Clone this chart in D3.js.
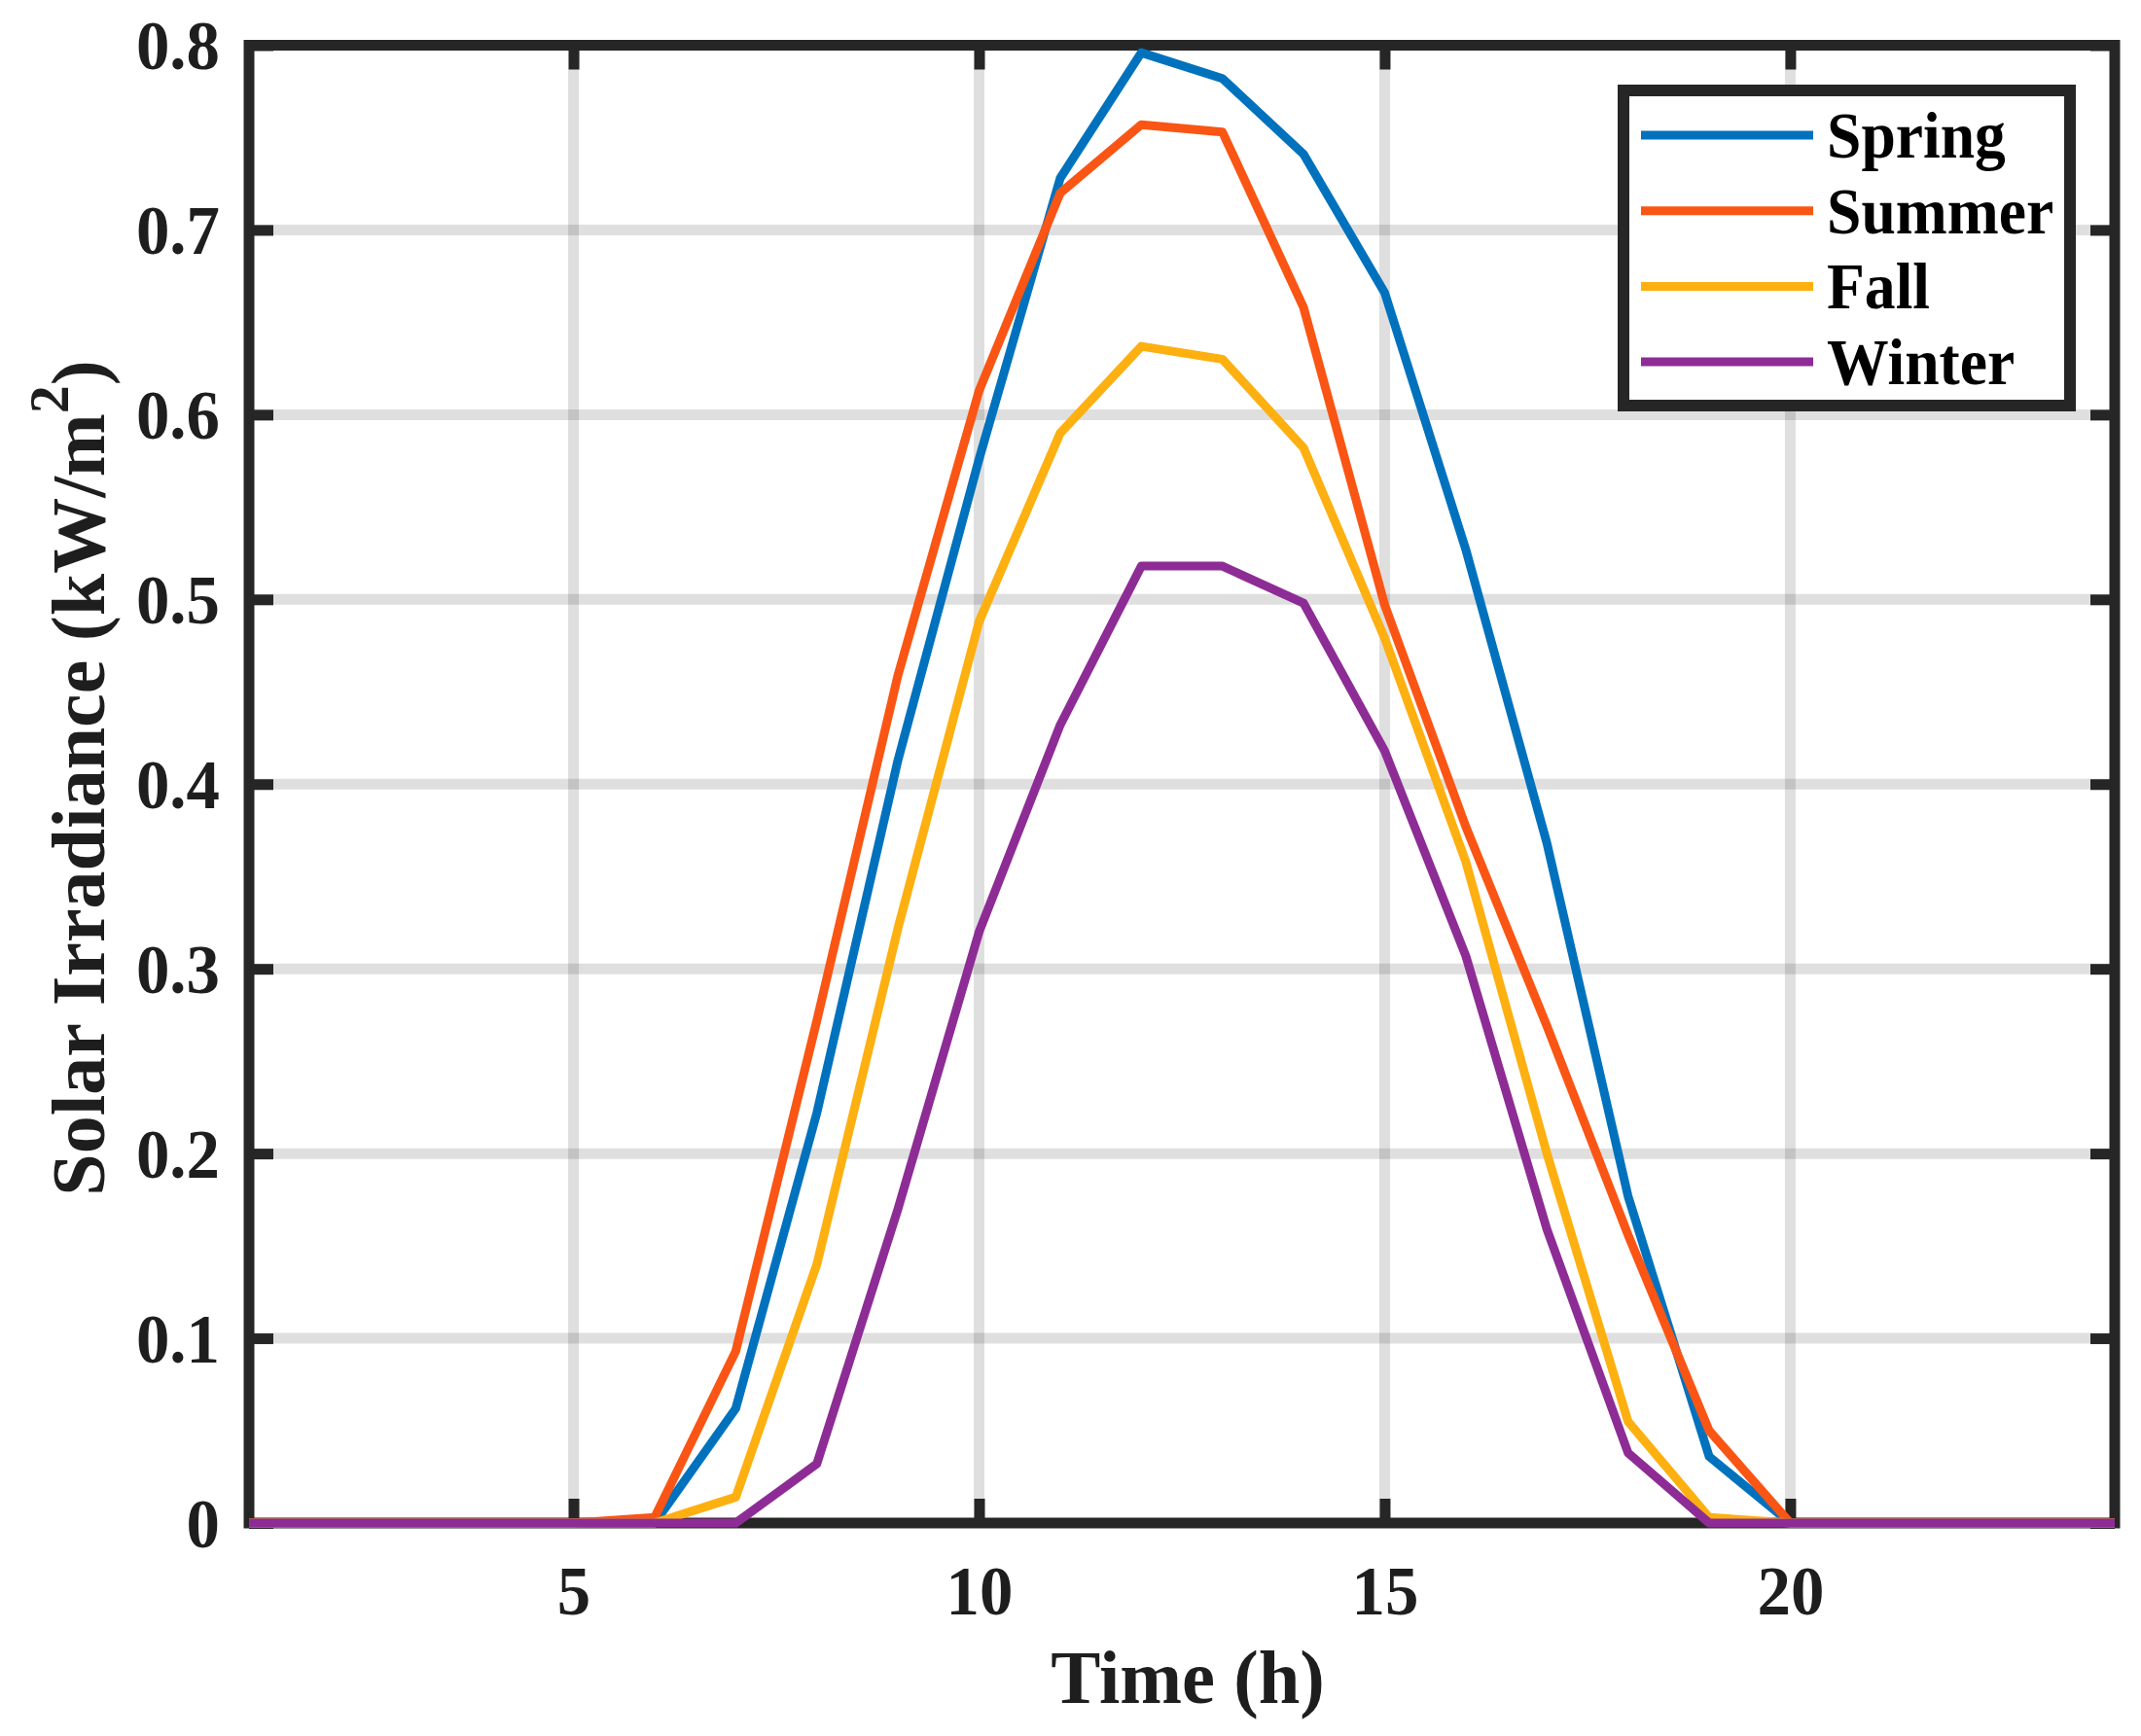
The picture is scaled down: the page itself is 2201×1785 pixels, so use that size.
<!DOCTYPE html>
<html>
<head>
<meta charset="utf-8">
<script src="https://cdn.jsdelivr.net/npm/d3@7"></script>
<style>
  html, body { margin: 0; padding: 0; background: #fff; }
  svg { display: block; }
  text { font-family: "Liberation Serif", "Times New Roman", serif; font-weight: bold; fill: #1e1e1e; }
</style>
</head>
<body>
<svg id="chart"></svg>
<script>
// ── data (hourly solar irradiance, kW/m2) ──
const hours  = d3.range(1, 25);
const spring = [0, 0, 0, 0, 0, 0, 0.062, 0.222, 0.413, 0.576, 0.728, 0.796, 0.782, 0.741, 0.666, 0.527, 0.368, 0.177, 0.036, 0, 0, 0, 0, 0];
const summer = [0, 0, 0, 0, 0, 0.003, 0.093, 0.272, 0.459, 0.613, 0.720, 0.757, 0.753, 0.658, 0.497, 0.377, 0.269, 0.156, 0.050, 0, 0, 0, 0, 0];
const fall   = [0, 0, 0, 0, 0, 0, 0.014, 0.140, 0.322, 0.488, 0.590, 0.637, 0.630, 0.582, 0.479, 0.358, 0.200, 0.055, 0.003, 0, 0, 0, 0, 0];
const winter = [0, 0, 0, 0, 0, 0, 0, 0.032, 0.170, 0.320, 0.432, 0.518, 0.518, 0.498, 0.418, 0.307, 0.159, 0.038, 0, 0, 0, 0, 0, 0];

const seriesNames  = ['Spring', 'Summer', 'Fall', 'Winter'];
const seriesValues = [spring, summer, fall, winter];
const seriesColors = ['#0072BD', '#FA5514', '#FDB010', '#8E2C96'];

const xTicks = [5, 10, 15, 20];
const yTicks = [0, 0.1, 0.2, 0.3, 0.4, 0.5, 0.6, 0.7, 0.8];

const W = 2201, H = 1785;
const AX = '#262626';
const SX = 0.97; // glyphs in the reference are a touch narrow

const svg = d3.select('#chart').attr('width', W).attr('height', H);

const x = d3.scaleLinear().domain([1, 24]).range([256, 2174]);
const y = d3.scaleLinear().domain([0, 0.8]).range([1566, 46.5]);

// grid (drawn first, under everything)
const grid = svg.append('g').attr('stroke', AX).attr('stroke-opacity', 0.15).attr('stroke-width', 11);
grid.selectAll('.gx').data(xTicks).join('line')
  .attr('x1', d => x(d)).attr('x2', d => x(d))
  .attr('y1', y(0.8)).attr('y2', y(0));
grid.selectAll('.gy').data(yTicks.slice(1, -1)).join('line')
  .attr('x1', x(1)).attr('x2', x(24))
  .attr('y1', d => y(d)).attr('y2', d => y(d));

// axes, ticks pointing inward
function styleAxis(g) {
  g.select('.domain').remove();
  g.selectAll('.tick line').attr('stroke', AX).attr('stroke-width', 11);
  g.selectAll('.tick text').attr('font-size', 71).style('fill', '#1e1e1e');
}

svg.append('g')
  .attr('transform', `translate(0,${y(0)})`)
  .call(d3.axisBottom(x).tickValues(xTicks).tickSize(-25).tickFormat(d3.format('d')))
  .call(styleAxis)
  .call(g => g.selectAll('.tick text')
    .attr('y', null).attr('dy', null)
    .attr('transform', `translate(0,94) scale(${SX},1)`));

svg.append('g')
  .attr('transform', `translate(${x(1)},0)`)
  .call(d3.axisLeft(y).tickValues(yTicks).tickSize(-25)
    .tickFormat(d => d === 0 ? '0' : d3.format('.1f')(d)))
  .call(styleAxis)
  .call(g => g.selectAll('.tick text')
    .attr('x', null).attr('dy', '0.34em')
    .attr('transform', `translate(-30,0) scale(${SX},1)`));

svg.append('g')
  .attr('transform', `translate(0,${y(0.8)})`)
  .call(d3.axisTop(x).tickValues(xTicks).tickSize(-25).tickFormat(''))
  .call(styleAxis);

svg.append('g')
  .attr('transform', `translate(${x(24)},0)`)
  .call(d3.axisRight(y).tickValues(yTicks).tickSize(-25).tickFormat(''))
  .call(styleAxis);

// axes box
svg.append('rect')
  .attr('x', x(1)).attr('y', y(0.8))
  .attr('width', x(24) - x(1)).attr('height', y(0) - y(0.8))
  .attr('fill', 'none').attr('stroke', AX).attr('stroke-width', 11);

// series lines on top of the box (winter last)
const line = d3.line().x((d, i) => x(hours[i])).y(d => y(d));
svg.append('g').selectAll('path').data(seriesValues).join('path')
  .attr('d', line)
  .attr('fill', 'none')
  .attr('stroke', (d, i) => seriesColors[i])
  .attr('stroke-width', 9)
  .attr('stroke-linejoin', 'round');

// axis labels
svg.append('text')
  .attr('transform', `translate(1221,1751) scale(${SX},1)`)
  .attr('text-anchor', 'middle').attr('font-size', 79)
  .text('Time (h)');

const yl = svg.append('text')
  .attr('transform', 'translate(107,800) rotate(-90)')
  .attr('text-anchor', 'middle').attr('font-size', 78);
yl.append('tspan').text('Solar Irradiance (kW/m');
yl.append('tspan').attr('font-size', 58).attr('dy', -37).text('2');
yl.append('tspan').attr('dy', 37).text(')');

// legend
const lg = svg.append('g');
lg.append('rect')
  .attr('x', 1669).attr('y', 93).attr('width', 459).attr('height', 324)
  .attr('fill', '#fff').attr('stroke', AX).attr('stroke-width', 12);
const rows = lg.selectAll('g.row').data(seriesNames).join('g')
  .attr('class', 'row')
  .attr('transform', (d, i) => `translate(0,${139 + i * 77.7})`);
rows.append('line')
  .attr('x1', 1687).attr('x2', 1864)
  .attr('stroke', (d, i) => seriesColors[i]).attr('stroke-width', 9);
rows.append('text')
  .attr('transform', `translate(1878,23) scale(0.95,1)`)
  .attr('font-size', 67)
  .style('fill', '#000')
  .text(d => d);
</script>
</body>
</html>
